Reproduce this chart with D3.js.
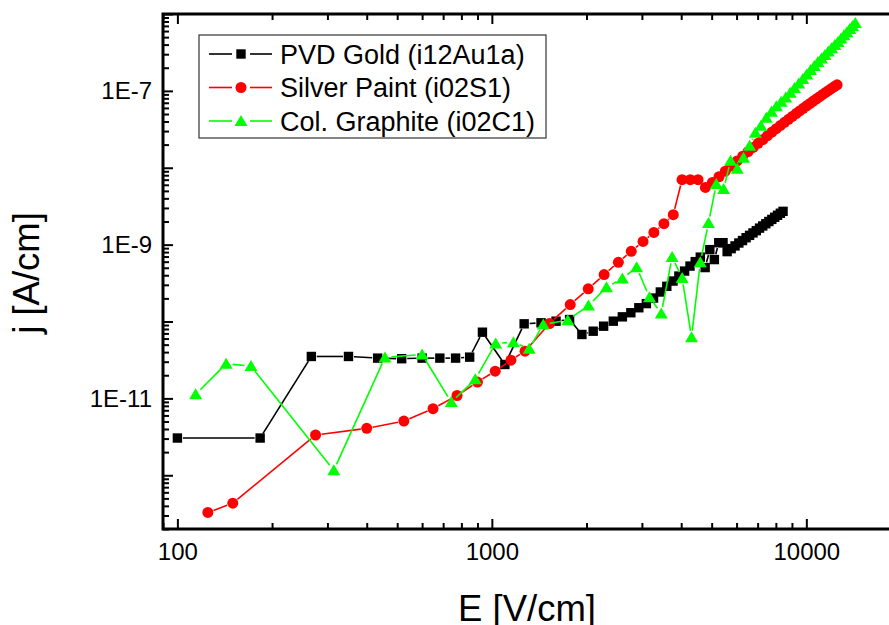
<!DOCTYPE html>
<html><head><meta charset="utf-8">
<script src="https://cdn.jsdelivr.net/npm/d3@7"></script>
<style>
body{margin:0;background:#fff}
svg{display:block}
text{font-family:"Liberation Sans",Arial,Helvetica,sans-serif;fill:#000}
</style>
</head><body>
<svg id="c" width="889" height="625"></svg>
<script>
// ---------------- data ----------------
const seriesNames = ["PVD Gold (i12Au1a)", "Silver Paint (i02S1)", "Col. Graphite (i02C1)"];

const goldE = [100, 183.3, 266.7, 350, 433.3, 516.7, 600, 683.3, 766.7, 850, 933.3,
  1100, 1266.7, 1433.3, 1600, 1766.7, 1933.3, 2100, 2266.7, 2433.3, 2600, 2766.7, 2933.3,
  3100, 3266.7, 3433.3, 3600, 3766.7, 3933.3, 4100, 4266.7, 4433.3, 4600, 4766.7, 4933.3,
  5100, 5266.7, 5433.3, 5600, 5766.7, 5933.3, 6100, 6266.7, 6433.3, 6600, 6766.7, 6933.3,
  7100, 7266.7, 7433.3, 7600, 7766.7, 7933.3, 8100, 8266.7, 8433.3];
const goldJ = [3.05e-12, 3.05e-12, 3.51e-11, 3.51e-11, 3.34e-11, 3.28e-11, 3.34e-11, 3.34e-11, 3.34e-11, 3.44e-11, 7.26e-11,
  2.76e-11, 9.33e-11, 9.62e-11, 1.01e-10, 1.06e-10, 6.78e-11, 7.48e-11, 8.69e-11, 1.01e-10, 1.15e-10, 1.30e-10, 1.51e-10,
  1.71e-10, 2.02e-10, 2.42e-10, 2.87e-10, 3.36e-10, 3.90e-10, 4.53e-10, 5.26e-10, 6.01e-10, 6.88e-10, 5.03e-10, 8.61e-10,
  6.39e-10, 1.06e-9, 1.06e-9, 8.11e-10, 8.87e-10, 9.62e-10, 1.05e-9, 1.13e-9, 1.23e-9, 1.32e-9, 1.42e-9, 1.52e-9,
  1.64e-9, 1.75e-9, 1.87e-9, 2.00e-9, 2.13e-9, 2.27e-9, 2.41e-9, 2.56e-9, 2.71e-9];

const silverE = [125, 150, 275, 400, 525, 650, 775, 900, 1025, 1150, 1275, 1525, 1775, 2025, 2275, 2525, 2775,
  3025, 3275, 3525, 3775, 4025, 4275, 4525, 4775, 5025, 5275, 5525, 5775, 6025, 6275, 6525, 6775,
  7025, 7275, 7525, 7775, 8025, 8275, 8525, 8775, 9025, 9275, 9525, 9775, 10025, 10275, 10525, 10775,
  11025, 11275, 11525, 11775, 12025, 12275, 12525];
const silverJ = [3.28e-13, 4.33e-13, 3.34e-12, 4.08e-12, 5.07e-12, 7.35e-12, 1.09e-11, 1.63e-11, 2.26e-11, 3.14e-11, 4.11e-11,
  9.42e-11, 1.66e-10, 2.66e-10, 4.08e-10, 5.89e-10, 8.18e-10, 1.10e-9, 1.44e-9, 1.87e-9, 2.45e-9,
  6.99e-9, 6.99e-9, 6.99e-9, 5.55e-9, 6.45e-9, 7.64e-9, 9.01e-9, 1.055e-8, 1.226e-8, 1.415e-8, 1.619e-8, 1.84e-8,
  2.08e-8, 2.33e-8, 2.61e-8, 2.91e-8, 3.22e-8, 3.55e-8, 3.90e-8, 4.26e-8, 4.65e-8, 5.06e-8, 5.48e-8, 5.93e-8,
  6.39e-8, 6.86e-8, 7.37e-8, 7.87e-8, 8.41e-8, 8.98e-8, 9.53e-8, 1.012e-7, 1.075e-7, 1.137e-7, 1.20e-7];

const graphiteE = [114.3, 142.9, 171.4, 314.3, 457.1, 600, 742.9, 885.7, 1028.6, 1171.4, 1314.3, 1457.1,
  1742.9, 2028.6, 2314.3, 2600, 2885.7, 3171.4, 3457.1, 3742.9, 4028.6, 4314.3, 4600, 4885.7,
  5171.4, 5457.1, 5742.9, 6028.6, 6314.3, 6600, 6885.7, 7171.4, 7457.1, 7742.9, 8028.6, 8314.3,
  8600, 8885.7, 9171.4, 9457.1, 9742.9, 10028.6, 10314.3, 10600, 10885.7, 11171.4, 11457.1,
  11742.9, 12028.6, 12314.3, 12600, 12885.7, 13171.4, 13457.1, 13742.9, 14028.6, 14314.3];
const graphiteJ = [1.13e-11, 2.82e-11, 2.63e-11, 1.16e-12, 3.41e-11, 3.73e-11, 8.95e-12, 1.77e-11, 5.18e-11, 5.38e-11, 4.42e-11, 9.14e-11,
  1.04e-10, 1.61e-10, 2.79e-10, 3.62e-10, 5.07e-10, 2.07e-10, 1.27e-10, 6.92e-10, 3.69e-10, 6.25e-11, 5.89e-10, 1.91e-9,
  6.14e-9, 5.29e-9, 1.233e-8, 9.7e-9, 1.349e-8, 1.93e-8, 2.85e-8, 3.51e-8, 4.46e-8, 5.34e-8, 6.29e-8, 7.20e-8,
  8.18e-8, 9.42e-8, 1.094e-7, 1.251e-7, 1.432e-7, 1.638e-7, 1.874e-7, 2.11e-7, 2.38e-7, 2.64e-7, 2.93e-7,
  3.26e-7, 3.58e-7, 3.96e-7, 4.33e-7, 4.81e-7, 5.29e-7, 5.80e-7, 6.38e-7, 6.98e-7, 7.64e-7];

const xTickValues = [100, 1000, 10000];
const xTickLabels = ["100", "1000", "10000"];
const yTickValues = [1e-12, 1e-11, 1e-10, 1e-9, 1e-8, 1e-7, 1e-6];
const yTickLabels = ["", "1E-11", "", "1E-9", "", "1E-7", ""];
const xTitle = "E [V/cm]";
const yTitle = "j [A/cm]";

// ---------------- chart ----------------
const svg = d3.select("#c");
const x = d3.scaleLog().domain([90, 20000]).range([163, 901]);
const y = d3.scaleLog().domain([2e-13, 1e-6]).range([529, 14]);
const X0 = 163, Y0 = 529, Y1 = 14;

function minorTicks(scale) {
  const [a, b] = scale.domain();
  const out = [];
  for (let e = Math.floor(Math.log10(a)); e <= Math.ceil(Math.log10(b)); e++) {
    for (let m = 2; m <= 9; m++) {
      const v = m * Math.pow(10, e);
      if (v >= a * 0.999 && v <= b * 1.001) out.push(v);
    }
  }
  return out;
}
const xMinor = minorTicks(x);
const yMinor = minorTicks(y);

function styleAxis(g) {
  g.select(".domain").remove();
  g.selectAll(".tick line").attr("stroke", "#000").attr("stroke-width", 2);
  g.selectAll(".tick text").style("font-size", "24px").style("font-family", '"Liberation Sans",Arial,sans-serif').attr("fill", "#000");
}

// bottom axis
svg.append("g").attr("transform", `translate(0,${Y0})`)
  .call(d3.axisBottom(x).tickValues(xMinor).tickSize(-6).tickFormat(""))
  .call(styleAxis);
svg.append("g").attr("transform", `translate(0,${Y0})`)
  .call(d3.axisBottom(x).tickValues(xTickValues).tickSize(-10).tickPadding(14)
    .tickFormat((d, i) => xTickLabels[i]))
  .call(styleAxis);
// top axis
svg.append("g").attr("transform", `translate(0,${Y1})`)
  .call(d3.axisTop(x).tickValues(xMinor).tickSize(-6).tickFormat(""))
  .call(styleAxis);
svg.append("g").attr("transform", `translate(0,${Y1})`)
  .call(d3.axisTop(x).tickValues(xTickValues).tickSize(-10).tickFormat(""))
  .call(styleAxis);
// left axis
svg.append("g").attr("transform", `translate(${X0},0)`)
  .call(d3.axisLeft(y).tickValues(yMinor).tickSize(-6).tickFormat(""))
  .call(styleAxis);
svg.append("g").attr("transform", `translate(${X0},0)`)
  .call(d3.axisLeft(y).tickValues(yTickValues).tickSize(-10).tickPadding(11)
    .tickFormat((d, i) => yTickLabels[i]))
  .call(styleAxis);

// frame (left, top, bottom)
const frame = svg.append("g").attr("stroke", "#000").attr("stroke-width", 3).attr("fill", "none");
frame.append("path").attr("d", `M${x.range()[1]},${Y1}H${X0}V${Y0}H${x.range()[1]}`)
  .attr("stroke-linejoin", "miter").attr("stroke-linecap", "square");

// plot
const plot = svg.append("g");
const series = [
  {E: goldE, J: goldJ, color: "#000000", shape: "square", gap: 5.5},
  {E: silverE, J: silverJ, color: "#ff0000", shape: "circle", gap: 6},
  {E: graphiteE, J: graphiteJ, color: "#00ff00", shape: "triangle", gap: 6.5}
];

function drawMarker(g, shape, cx, cy, color) {
  if (shape === "square") {
    g.append("rect").attr("x", cx - 4.7).attr("y", cy - 4.7).attr("width", 9.4).attr("height", 9.4).attr("fill", color);
  } else if (shape === "circle") {
    g.append("circle").attr("cx", cx).attr("cy", cy).attr("r", 5.5).attr("fill", color);
  } else {
    g.append("path").attr("d", `M${cx},${cy - 6}L${cx + 6.5},${cy + 5}L${cx - 6.5},${cy + 5}Z`).attr("fill", color);
  }
}

series.forEach(s => {
  const g = plot.append("g");
  const pts = s.E.map((e, i) => [x(e), y(s.J[i])]);
  for (let i = 0; i < pts.length - 1; i++) {
    const [x1, y1] = pts[i], [x2, y2] = pts[i + 1];
    const dx = x2 - x1, dy = y2 - y1, L = Math.hypot(dx, dy);
    if (L <= 2 * s.gap) continue;
    const ux = dx / L, uy = dy / L;
    g.append("line")
      .attr("x1", x1 + ux * s.gap).attr("y1", y1 + uy * s.gap)
      .attr("x2", x2 - ux * s.gap).attr("y2", y2 - uy * s.gap)
      .attr("stroke", s.color).attr("stroke-width", 1.6);
  }
  pts.forEach(p => drawMarker(g, s.shape, p[0], p[1], s.color));
});

// legend
const lg = svg.append("g");
lg.append("rect").attr("x", 199).attr("y", 35).attr("width", 347).attr("height", 103)
  .attr("fill", "#fff").attr("stroke", "#333").attr("stroke-width", 1.2);
const rowY = [54, 87.5, 121];
series.forEach((s, i) => {
  const yy = rowY[i];
  lg.append("line").attr("x1", 209).attr("x2", 232).attr("y1", yy).attr("y2", yy).attr("stroke", s.color).attr("stroke-width", 1.6);
  lg.append("line").attr("x1", 250).attr("x2", 272).attr("y1", yy).attr("y2", yy).attr("stroke", s.color).attr("stroke-width", 1.6);
  drawMarker(lg, s.shape, 241, yy, s.color);
  lg.append("text").attr("x", 280).attr("y", yy).attr("dy", "0.36em").style("font-size", "27px").text(seriesNames[i]);
});

// axis titles
svg.append("text").attr("x", 527).attr("y", 621).attr("text-anchor", "middle").style("font-size", "36.5px").text(xTitle);
svg.append("text").attr("transform", "translate(39,273) rotate(-90)").attr("text-anchor", "middle").style("font-size", "36.5px").text(yTitle);
</script>
</body></html>
